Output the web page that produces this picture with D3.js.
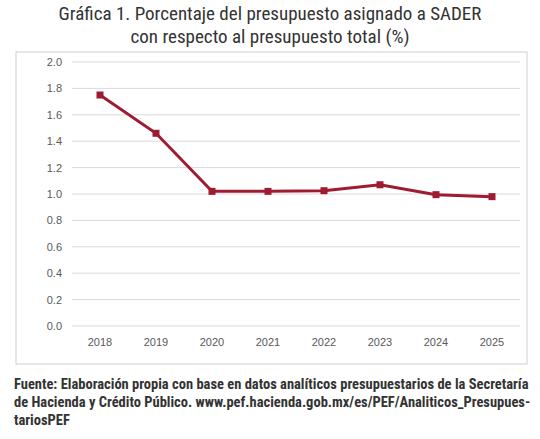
<!DOCTYPE html>
<html><head><meta charset="utf-8">
<script src="https://cdn.jsdelivr.net/npm/d3@7"></script>
<style>body{margin:0;background:#fff}</style></head>
<body><svg id="c" width="540" height="439"></svg>
<script>
const years = ["2018","2019","2020","2021","2022","2023","2024","2025"];
const values = [1.75, 1.46, 1.02, 1.02, 1.025, 1.07, 0.995, 0.98];
const yTicks = [0,0.2,0.4,0.6,0.8,1.0,1.2,1.4,1.6,1.8,2.0];
const titleLines = ["Gráfica 1. Porcentaje del presupuesto asignado a SADER","con respecto al presupuesto total (%)"];
const sourceLines = ["Fuente: Elaboración propia con base en datos analíticos presupuestarios de la Secretaría","de Hacienda y Crédito Público. www.pef.hacienda.gob.mx/es/PEF/Analiticos_Presupues-","tariosPEF"];
const svg = d3.select("#c");
const font = "'Liberation Sans Narrow','Roboto Condensed','Liberation Sans',sans-serif";
svg.selectAll("text.t").data(titleLines).join("text").attr("x",270).attr("y",(d,i)=>20+i*23)
 .attr("text-anchor","middle").attr("font-family",font).attr("font-size",19).attr("fill","#333").text(d=>d);
svg.append("rect").attr("x",16).attr("y",52).attr("width",511).attr("height",312).attr("fill","none").attr("stroke","#d0d0d0");
const x = d3.scalePoint().domain(years).range([100,492]);
const y = d3.scaleLinear().domain([0,2]).range([326,62]);
const g = svg.append("g");
g.selectAll("line.g").data(yTicks).join("line").attr("x1",72).attr("x2",520)
 .attr("y1",d=>y(d)).attr("y2",d=>y(d)).attr("stroke","#d9d9d9").attr("stroke-width",1);
g.selectAll("text.y").data(yTicks).join("text").attr("x",62).attr("y",d=>y(d)+4).attr("text-anchor","end")
 .attr("font-family","Liberation Sans,sans-serif").attr("font-size",11).attr("fill","#595959").text(d=>d.toFixed(1));
g.selectAll("text.x").data(years).join("text").attr("x",d=>x(d)).attr("y",346).attr("text-anchor","middle")
 .attr("font-family","Liberation Sans,sans-serif").attr("font-size",11).attr("fill","#595959").text(d=>d);
const line = d3.line().x((d,i)=>x(years[i])).y(d=>y(d));
g.append("path").datum(values).attr("d",line).attr("fill","none").attr("stroke","#9e1b32").attr("stroke-width",3);
g.selectAll("rect.m").data(values).join("rect").attr("x",(d,i)=>x(years[i])-3.5).attr("y",d=>y(d)-3.5)
 .attr("width",7).attr("height",7).attr("fill","#9e1b32");
svg.selectAll("text.s").data(sourceLines).join("text").attr("x",14).attr("y",(d,i)=>389+i*18)
 .attr("font-family",font).attr("font-size",14.5).attr("font-weight","bold").attr("fill","#333").text(d=>d);
</script></body></html>
